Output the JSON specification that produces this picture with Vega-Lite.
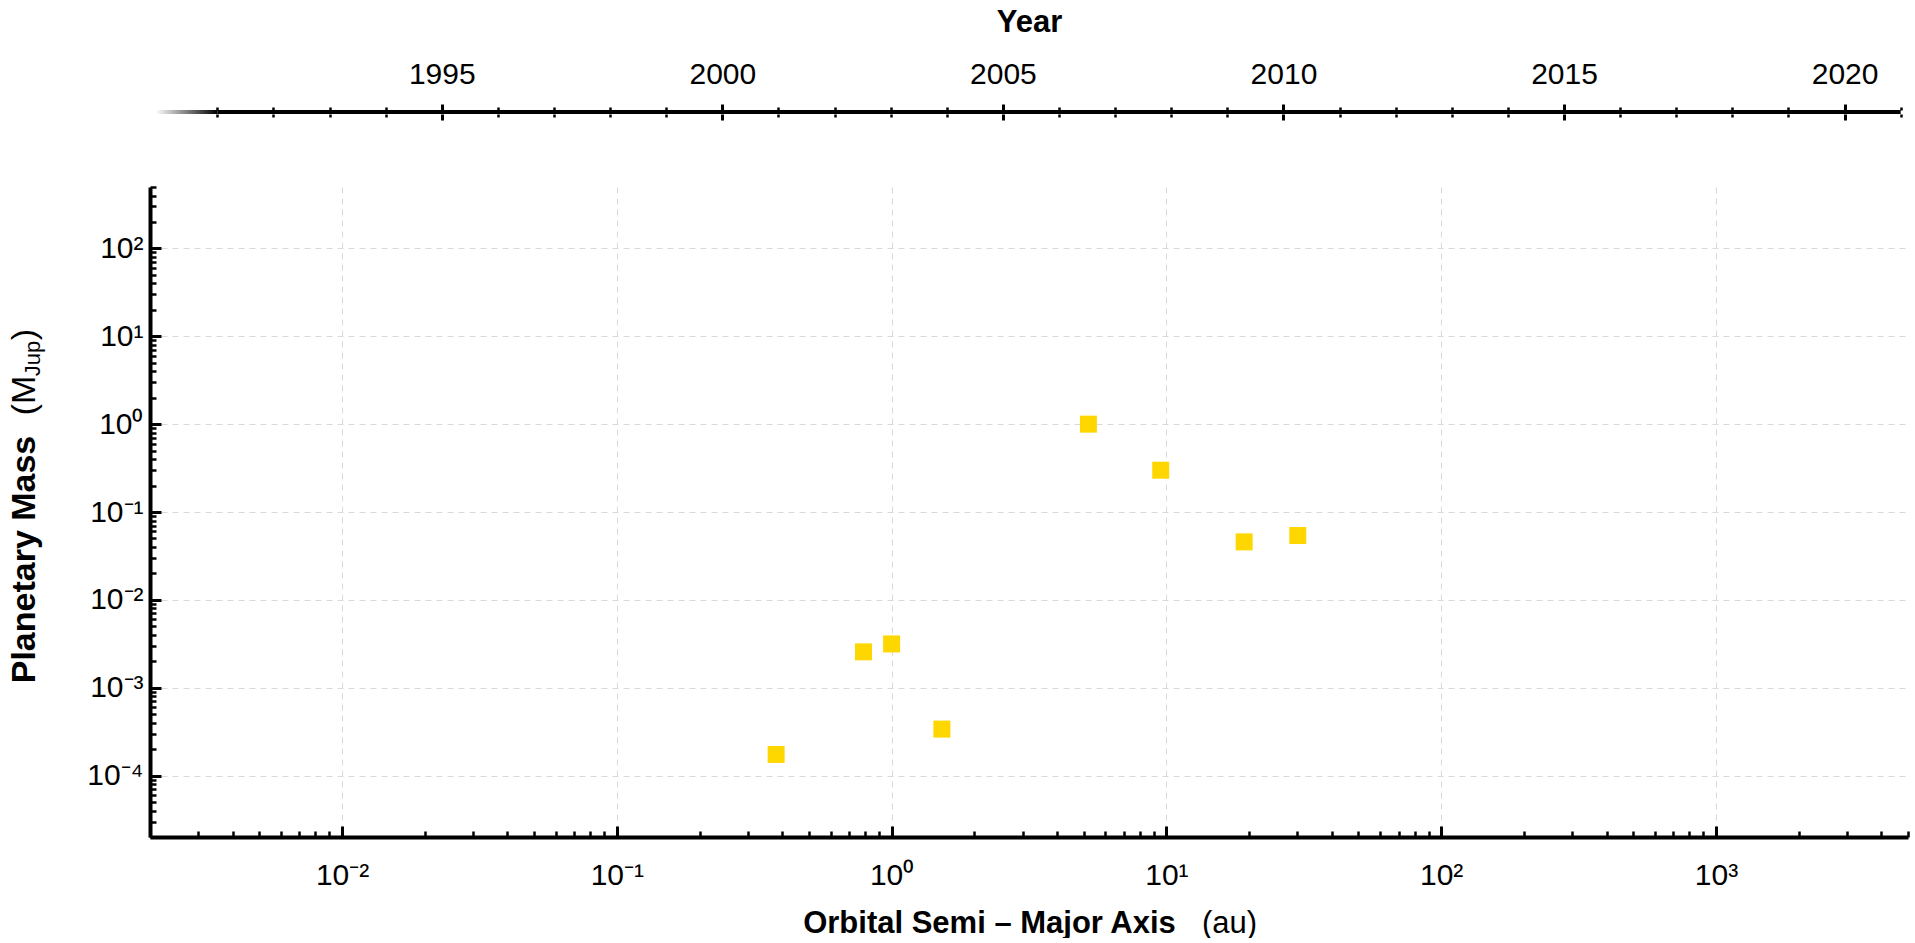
{
  "$schema": "https://vega.github.io/schema/vega-lite/v6.json",
  "padding": {"left": 7, "top": 6, "right": 2, "bottom": 0},
  "background": "white",
  "config": {"view": {"stroke": null}, "font": "Liberation Sans", "concat": {"spacing": 50}},
  "datasets": {
    "planets": [
      {"planet": "Mercury", "a": 0.38, "mass": 0.000174},
      {"planet": "Venus", "a": 0.79, "mass": 0.00256},
      {"planet": "Earth", "a": 1.0, "mass": 0.00315},
      {"planet": "Mars", "a": 1.524, "mass": 0.000338},
      {"planet": "Jupiter", "a": 5.203, "mass": 1.0},
      {"planet": "Saturn", "a": 9.537, "mass": 0.299},
      {"planet": "Uranus", "a": 19.19, "mass": 0.0457},
      {"planet": "Neptune", "a": 30.07, "mass": 0.054}
    ],
    "fade": [{"start": 1989.9, "end": 1991}],
    "line": [{"start": 1991, "end": 2021}]
  },
  "vconcat": [
    {
      "width": 1758,
      "height": 4,
      "layer": [
        {
          "data": {"name": "fade"},
          "mark": {"type": "rect", "color": {"gradient": "linear", "x1": 0, "x2": 1, "y1": 0, "y2": 0, "stops": [{"offset": 0, "color": "#ffffff"}, {"offset": 1, "color": "#000000"}]}},
          "encoding": {
            "x": {"field": "start", "type": "quantitative", "scale": {"domain": [1989.8, 2021.13], "nice": false, "zero": false},
              "axis": {"orient": "top", "values": [1991,1992,1993,1994,1995,1996,1997,1998,1999,2000,2001,2002,2003,2004,2005,2006,2007,2008,2009,2010,2011,2012,2013,2014,2015,2016,2017,2018,2019,2020,2021],
                "format": "d", "labelExpr": "datum.value % 5 === 0 ? datum.label : ''",
                "domain": false, "grid": false, "tickColor": "black",
                "tickSize": {"condition": {"test": "datum.value % 5 === 0", "value": 6}, "value": 3},
                "tickWidth": {"condition": {"test": "datum.value % 5 === 0", "value": 3}, "value": 2.5},
                "labelFontSize": 30, "labelColor": "black", "labelPadding": 15,
                "title": "Year", "titleFontSize": 31, "titleFontWeight": "bold", "titleColor": "black", "titlePadding": 21}},
            "x2": {"field": "end"},
            "y": {"datum": 0, "type": "quantitative", "scale": {"domain": [0, 1], "nice": false, "zero": false}, "axis": null},
            "y2": {"datum": 1}
          }
        },
        {
          "data": {"name": "line"},
          "mark": {"type": "rect", "color": "black"},
          "encoding": {
            "x": {"field": "start", "type": "quantitative", "scale": {"domain": [1989.8, 2021.13], "nice": false, "zero": false},
              "axis": {"orient": "bottom", "values": [1991,1992,1993,1994,1995,1996,1997,1998,1999,2000,2001,2002,2003,2004,2005,2006,2007,2008,2009,2010,2011,2012,2013,2014,2015,2016,2017,2018,2019,2020,2021],
                "labels": false, "domain": false, "grid": false, "tickColor": "black", "title": null,
                "tickSize": {"condition": {"test": "datum.value % 5 === 0", "value": 6}, "value": 3},
                "tickWidth": {"condition": {"test": "datum.value % 5 === 0", "value": 3}, "value": 2.5}}},
            "x2": {"field": "end"},
            "y": {"datum": 0, "type": "quantitative", "scale": {"domain": [0, 1], "nice": false, "zero": false}, "axis": null},
            "y2": {"datum": 1}
          }
        }
      ],
      "resolve": {"axis": {"x": "independent"}}
    },
    {
      "width": 1758,
      "height": 650,
      "data": {"name": "planets"},
      "layer": [
        {
          "mark": {"type": "square", "color": "#FFD700", "opacity": 1, "size": 289},
          "encoding": {
            "x": {"field": "a", "type": "quantitative",
              "scale": {"type": "log", "domain": [0.002, 5000], "nice": false},
              "axis": {"orient": "bottom",
                "values": [0.002,0.003,0.004,0.005,0.006,0.007,0.008,0.009,0.01,0.02,0.03,0.04,0.05,0.06,0.07,0.08,0.09,0.1,0.2,0.3,0.4,0.5,0.6,0.7,0.8,0.9,1,2,3,4,5,6,7,8,9,10,20,30,40,50,60,70,80,90,100,200,300,400,500,600,700,800,900,1000,2000,3000,4000,5000],
                "labelExpr": "abs(log(datum.value)/LN10 - round(log(datum.value)/LN10)) < 1e-6 ? '10' + (round(log(datum.value)/LN10) < 0 ? '⁻' : '') + ['⁰','¹','²','³','⁴','⁵','⁶'][abs(round(log(datum.value)/LN10))] : ''",
                "labelFontSize": 30, "labelColor": "black", "labelPadding": 34, "labelFlush": false, "labelOverlap": false,
                "domainColor": "black", "domainWidth": 4, "tickColor": "black",
                "tickSize": {"condition": {"test": "abs(log(datum.value)/LN10 - round(log(datum.value)/LN10)) < 1e-6", "value": -11}, "value": -6},
                "tickWidth": {"condition": {"test": "abs(log(datum.value)/LN10 - round(log(datum.value)/LN10)) < 1e-6", "value": 3}, "value": 2.5},
                "grid": true, "gridColor": "#d9d9d9", "gridDash": [6, 5], "gridWidth": 1,
                "gridOpacity": {"condition": {"test": "abs(log(datum.value)/LN10 - round(log(datum.value)/LN10)) < 1e-6", "value": 1}, "value": 0},
                "title": "Orbital Semi – Major Axis", "titleFontSize": 31, "titleFontWeight": "bold", "titleColor": "black",
                "titleX": 839, "titleY": 86, "titleBaseline": "middle", "titleAlign": "center"}},
            "y": {"field": "mass", "type": "quantitative",
              "scale": {"type": "log", "domain": [0.00002, 500], "nice": false},
              "axis": {"orient": "left",
                "values": [0.00002,0.00003,0.00004,0.00005,0.00006,0.00007,0.00008,0.00009,0.0001,0.0002,0.0003,0.0004,0.0005,0.0006,0.0007,0.0008,0.0009,0.001,0.002,0.003,0.004,0.005,0.006,0.007,0.008,0.009,0.01,0.02,0.03,0.04,0.05,0.06,0.07,0.08,0.09,0.1,0.2,0.3,0.4,0.5,0.6,0.7,0.8,0.9,1,2,3,4,5,6,7,8,9,10,20,30,40,50,60,70,80,90,100,200,300,400,500],
                "labelExpr": "abs(log(datum.value)/LN10 - round(log(datum.value)/LN10)) < 1e-6 ? '10' + (round(log(datum.value)/LN10) < 0 ? '⁻' : '') + ['⁰','¹','²','³','⁴','⁵','⁶'][abs(round(log(datum.value)/LN10))] : ''",
                "labelFontSize": 30, "labelColor": "black", "labelPadding": 18, "labelFlush": false, "labelOverlap": false,
                "domainColor": "black", "domainWidth": 4, "tickColor": "black",
                "tickSize": {"condition": {"test": "abs(log(datum.value)/LN10 - round(log(datum.value)/LN10)) < 1e-6", "value": -11}, "value": -6},
                "tickWidth": {"condition": {"test": "abs(log(datum.value)/LN10 - round(log(datum.value)/LN10)) < 1e-6", "value": 3}, "value": 2.5},
                "grid": true, "gridColor": "#d9d9d9", "gridDash": [6, 5], "gridWidth": 1,
                "gridOpacity": {"condition": {"test": "abs(log(datum.value)/LN10 - round(log(datum.value)/LN10)) < 1e-6", "value": 1}, "value": 0},
                "title": "Planetary Mass", "titleFontSize": 34, "titleFontWeight": "bold", "titleColor": "black",
                "titleX": -126, "titleY": 372, "titleBaseline": "middle", "titleAlign": "center", "titleAngle": -90}}
          }
        },
        {
          "mark": {"type": "square", "opacity": 0},
          "encoding": {
            "x": {"field": "a", "type": "quantitative", "scale": {"type": "log", "domain": [0.002, 5000], "nice": false},
              "axis": {"orient": "bottom", "domain": false, "ticks": false, "labels": false, "grid": false,
                "title": "(au)", "titleFontSize": 31, "titleFontWeight": "normal", "titleColor": "black",
                "titleX": 1079, "titleY": 86, "titleBaseline": "middle", "titleAlign": "center"}},
            "y": {"field": "mass", "type": "quantitative", "scale": {"type": "log", "domain": [0.00002, 500], "nice": false},
              "axis": {"orient": "left", "domain": false, "ticks": false, "labels": false, "grid": false,
                "title": "(M", "titleFontSize": 34, "titleFontWeight": "normal", "titleColor": "black",
                "titleX": -126, "titleY": 208, "titleBaseline": "middle", "titleAlign": "center", "titleAngle": -90}}
          }
        },
        {
          "mark": {"type": "square", "opacity": 0},
          "encoding": {
            "x": {"field": "a", "type": "quantitative", "scale": {"type": "log", "domain": [0.002, 5000], "nice": false}, "axis": null},
            "y": {"field": "mass", "type": "quantitative", "scale": {"type": "log", "domain": [0.00002, 500], "nice": false},
              "axis": {"orient": "left", "domain": false, "ticks": false, "labels": false, "grid": false,
                "title": "Jup", "titleFontSize": 22, "titleFontWeight": "normal", "titleColor": "black",
                "titleX": -118, "titleY": 171, "titleBaseline": "middle", "titleAlign": "center", "titleAngle": -90}}
          }
        },
        {
          "mark": {"type": "square", "opacity": 0},
          "encoding": {
            "x": {"field": "a", "type": "quantitative", "scale": {"type": "log", "domain": [0.002, 5000], "nice": false}, "axis": null},
            "y": {"field": "mass", "type": "quantitative", "scale": {"type": "log", "domain": [0.00002, 500], "nice": false},
              "axis": {"orient": "left", "domain": false, "ticks": false, "labels": false, "grid": false,
                "title": ")", "titleFontSize": 34, "titleFontWeight": "normal", "titleColor": "black",
                "titleX": -126, "titleY": 147, "titleBaseline": "middle", "titleAlign": "center", "titleAngle": -90}}
          }
        }
      ],
      "resolve": {"axis": {"x": "independent", "y": "independent"}}
    }
  ]
}
